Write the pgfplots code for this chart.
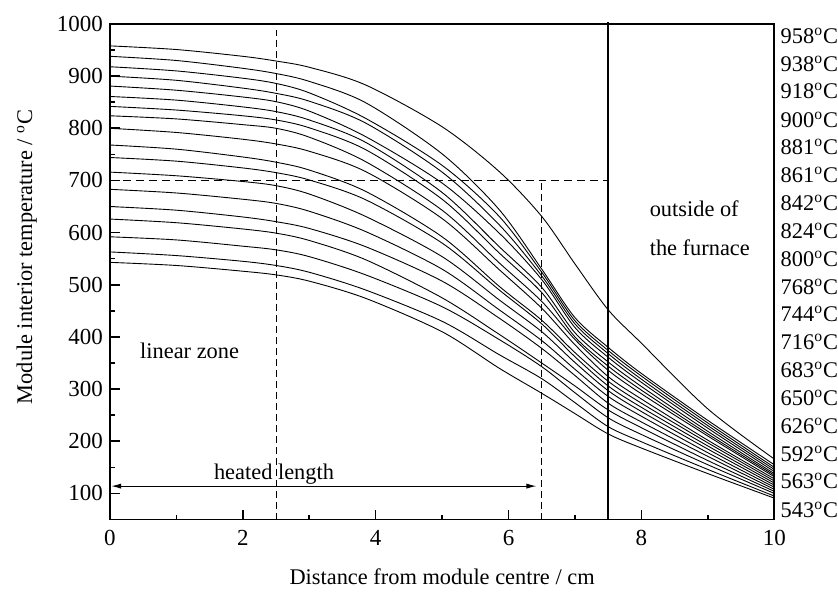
\documentclass[border=0pt]{standalone}
\usepackage{fontspec}
\setmainfont{Liberation Serif}
\usepackage{pgfplots}
\usepackage{pgfplotstable}
\pgfplotsset{compat=1.18}
\usetikzlibrary{arrows.meta}

\pgfplotstableread{
x    t958 t938 t918 t900 t881 t861 t842 t824 t800 t768 t744 t716 t683 t650 t626 t592 t563 t543
0    958  938  918  900  881  861  842  824  800  768  744  716  683  650  626  592  563  543
1    951  930  910  892  873  854  835  818  792  760  737  709  676  643  619  586  556  537
2    938  915  896  877  860  841  824  807  779  745  724  698  664  630  607  574  545  526
2.5  929  905  886  867  851  832  816  800  770  735  715  690  656  621  599  567  537  519
3    917  890  868  852  833  816  801  783  756  720  701  674  641  608  585  554  524  507
3.85 883  849  819  810  784  773  759  736  717  679  663  631  602  573  548  519  490  474
5    803  751  729  716  695  677  664  643  627  592  580  554  530  507  475  458  430  410
5.86 717  644  631  615  599  573  561  542  529  497  490  471  452  436  405  395  366  340
6.5  631  530  524  517  510  495  485  468  455  432  425  410  393  378  350  343  320  292
7    540  437  431  425  418  408  400  395  385  370  362  351  338  326  306  293  274  253
7.5  452  380  374  368  361  352  344  336  324  315  306  297  286  273  260  245  228  214
8    388  330  325  319  313  305  298  291  281  273  265  257  248  237  226  213  199  187
9    262  240  235  230  225  219  214  210  202  197  191  185  178  171  163  155  146  138
10   166  155  150  146  142  138  135  132  128  124  120  116  112  108  104  100  95   91
}\data

\begin{document}
\begin{tikzpicture}[font=\fontsize{11.2}{13}\selectfont]
\begin{axis}[
  width=332.5pt, height=248pt, scale only axis,
  xmin=0, xmax=10, ymin=50, ymax=1000,
  xtick={0,2,...,10}, minor x tick num=1,
  ytick={100,200,...,1000}, minor y tick num=1,
  tick pos=left, tick align=inside,
  major tick length=5pt, minor tick length=2.5pt,
  axis line style={line width=0.9pt},
  every tick/.style={black, line width=0.8pt},
  /pgf/number format/assume math mode=true,
  /pgf/number format/1000 sep={},
  ticklabel style={font=\fontsize{11.5}{13}\selectfont},
  xticklabel style={yshift=-2pt},
  clip=false,
  xlabel={Distance from module centre / cm},
  ylabel={Module interior temperature / \textsuperscript{o}C},
  xlabel style={at={(axis description cs:0.5,-0.115)}, anchor=center},
  ylabel style={at={(axis description cs:-0.125,0.53)}, anchor=center},
  curve/.style={black, solid, line width=0.45pt, smooth, mark=none},
]
\path (axis description cs:-0.1654,-0.1431) rectangle (axis description cs:1.0947,1.0484);

\addplot[curve] table[x=x, y=t958] {\data};
\addplot[curve] table[x=x, y=t938] {\data};
\addplot[curve] table[x=x, y=t918] {\data};
\addplot[curve] table[x=x, y=t900] {\data};
\addplot[curve] table[x=x, y=t881] {\data};
\addplot[curve] table[x=x, y=t861] {\data};
\addplot[curve] table[x=x, y=t842] {\data};
\addplot[curve] table[x=x, y=t824] {\data};
\addplot[curve] table[x=x, y=t800] {\data};
\addplot[curve] table[x=x, y=t768] {\data};
\addplot[curve] table[x=x, y=t744] {\data};
\addplot[curve] table[x=x, y=t716] {\data};
\addplot[curve] table[x=x, y=t683] {\data};
\addplot[curve] table[x=x, y=t650] {\data};
\addplot[curve] table[x=x, y=t626] {\data};
\addplot[curve] table[x=x, y=t592] {\data};
\addplot[curve] table[x=x, y=t563] {\data};
\addplot[curve] table[x=x, y=t543] {\data};

% guide lines
\draw[line width=0.45pt, dash pattern=on 3.5pt off 2pt] (axis cs:2.5,50) -- (axis cs:2.5,988);
\draw[line width=0.55pt, dash pattern=on 4pt off 2.5pt] (axis cs:0,700) -- (axis cs:7.5,700);
\draw[line width=0.5pt, dash pattern=on 3.5pt off 2pt] (axis cs:6.5,50) -- (axis cs:6.5,700);
\draw[line width=1pt] (axis cs:7.5,50) -- (axis cs:7.5,1003);
\draw[line width=0.5pt, {Latex[length=5pt,width=2.6pt]}-{Latex[length=5pt,width=2.6pt]}] (axis cs:0.02,114) -- (axis cs:6.42,114);

\node[anchor=base] at (axis cs:2.47,126) {heated length};
\node[anchor=base west] at (axis cs:0.35,358) {linear zone};
\node[anchor=base west] at (axis cs:8.02,631) {outside of};
\node[anchor=base west] at (axis cs:8.02,557) {the furnace};

\node[anchor=west, inner sep=0pt, xshift=3pt] at (rel axis cs:1,0.976) {958\textsuperscript{o}C};
\node[anchor=west, inner sep=0pt, xshift=3pt] at (rel axis cs:1,0.920) {938\textsuperscript{o}C};
\node[anchor=west, inner sep=0pt, xshift=3pt] at (rel axis cs:1,0.864) {918\textsuperscript{o}C};
\node[anchor=west, inner sep=0pt, xshift=3pt] at (rel axis cs:1,0.807) {900\textsuperscript{o}C};
\node[anchor=west, inner sep=0pt, xshift=3pt] at (rel axis cs:1,0.751) {881\textsuperscript{o}C};
\node[anchor=west, inner sep=0pt, xshift=3pt] at (rel axis cs:1,0.695) {861\textsuperscript{o}C};
\node[anchor=west, inner sep=0pt, xshift=3pt] at (rel axis cs:1,0.639) {842\textsuperscript{o}C};
\node[anchor=west, inner sep=0pt, xshift=3pt] at (rel axis cs:1,0.583) {824\textsuperscript{o}C};
\node[anchor=west, inner sep=0pt, xshift=3pt] at (rel axis cs:1,0.526) {800\textsuperscript{o}C};
\node[anchor=west, inner sep=0pt, xshift=3pt] at (rel axis cs:1,0.470) {768\textsuperscript{o}C};
\node[anchor=west, inner sep=0pt, xshift=3pt] at (rel axis cs:1,0.414) {744\textsuperscript{o}C};
\node[anchor=west, inner sep=0pt, xshift=3pt] at (rel axis cs:1,0.358) {716\textsuperscript{o}C};
\node[anchor=west, inner sep=0pt, xshift=3pt] at (rel axis cs:1,0.302) {683\textsuperscript{o}C};
\node[anchor=west, inner sep=0pt, xshift=3pt] at (rel axis cs:1,0.245) {650\textsuperscript{o}C};
\node[anchor=west, inner sep=0pt, xshift=3pt] at (rel axis cs:1,0.189) {626\textsuperscript{o}C};
\node[anchor=west, inner sep=0pt, xshift=3pt] at (rel axis cs:1,0.133) {592\textsuperscript{o}C};
\node[anchor=west, inner sep=0pt, xshift=3pt] at (rel axis cs:1,0.077) {563\textsuperscript{o}C};
\node[anchor=west, inner sep=0pt, xshift=3pt] at (rel axis cs:1,0.020) {543\textsuperscript{o}C};
\end{axis}
\end{tikzpicture}
\end{document}
